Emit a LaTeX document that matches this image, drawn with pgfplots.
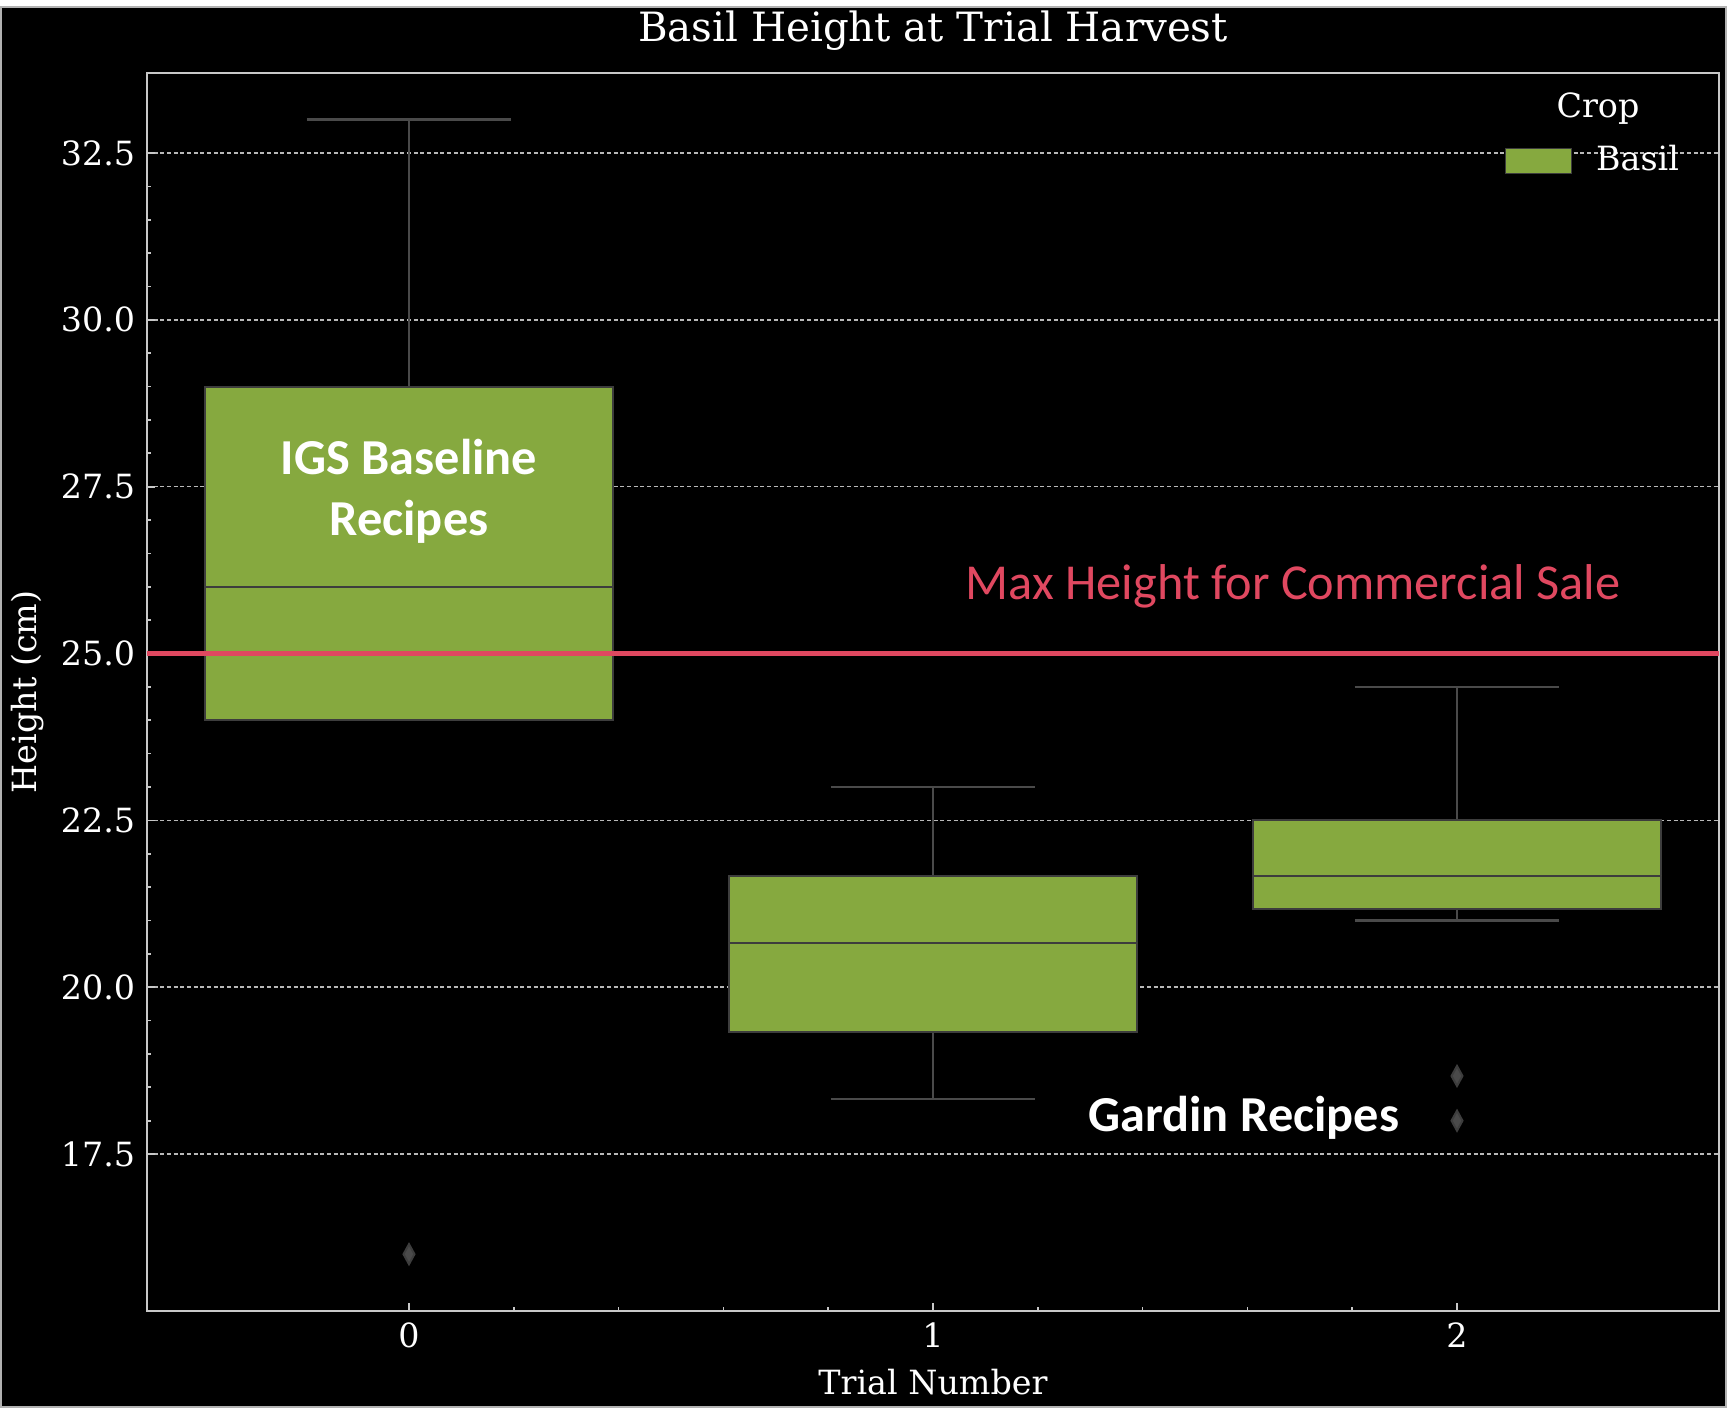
\documentclass[border=0pt]{standalone}
\usepackage{fontspec}
\setmainfont{DejaVu Serif}
\newfontfamily\calibri{Carlito}
\usepackage{pgfplots}
\pgfplotsset{compat=1.18}
\usepgfplotslibrary{statistics}

\definecolor{basil}{HTML}{86A93F}
\definecolor{boxedge}{HTML}{3D3D3D}
\definecolor{whisk}{HTML}{4A4A4A}
\definecolor{outl}{HTML}{4A4A4A}
\definecolor{salered}{HTML}{E04860}
\definecolor{axgray}{HTML}{C8C8C8}
\definecolor{gridgray}{HTML}{B8B8B8}

\begin{document}
\begin{tikzpicture}
% page background (1727 x 1402 px, 0.3pt per px)
\fill[black] (-44.1pt,-29.1pt) rectangle (474pt,391.5pt);
\draw[gray!60, line width=0.6pt] (-43.8pt,-28.8pt) rectangle (473.7pt,391.2pt);
\begin{axis}[
    scale only axis,
    width=471.6pt, height=371.4pt,
    xmin=-0.5, xmax=2.5,
    ymin=15.15, ymax=33.7,
    axis line style={axgray, line width=0.6pt},
    xtick={0,1,2},
    ytick={17.5,20,22.5,25,27.5,30,32.5},
    minor x tick num=4,
    minor y tick num=4,
    xtick pos=bottom, ytick pos=left,
    tick align=inside,
    major tick length=2.4pt, minor tick length=1.3pt,
    tick style={axgray, line width=0.5pt},
    /pgf/number format/assume math mode=true,
    yticklabel style={/pgf/number format/fixed, /pgf/number format/fixed zerofill, /pgf/number format/precision=1},
    ticklabel style={white, font=\fontsize{10}{12}\selectfont},
    ymajorgrids,
    major grid style={gridgray, line width=0.45pt, dash pattern=on 1.2pt off 0.8pt},
    % titles and labels
    title={Basil Height at Trial Harvest},
    every axis title/.style={at={(axis description cs:0.5,1)}, yshift=12.6pt, anchor=center, white, font=\fontsize{12.1}{14}\selectfont},
    xlabel={Trial Number}, ylabel={Height (cm)},
    label style={white, font=\fontsize{10}{12}\selectfont},
    xlabel style={at={(axis description cs:0.5,-0.0574)}, anchor=center},
    ylabel style={at={(axis description cs:-0.076,0.5)}, anchor=center},
    % legend
    legend style={draw=none, fill=none, text=white, font=\fontsize{10}{12}\selectfont,
        at={(axis description cs:0.857,0.929)}, anchor=west},
    legend image code/.code={\draw[fill=basil, draw=boxedge, line width=0.4pt] (0pt,-3.75pt) rectangle (19.8pt,3.75pt);
        \path (25pt,0pt);},
    boxplot/draw direction=y,
    boxplot/every whisker/.style={whisk, line width=0.7pt},
]
% trial 0
\addplot[boxplot prepared={draw position=0, median=26, upper quartile=29, lower quartile=24,
    upper whisker=33, lower whisker=24, box extend=0.78, whisker extend=0.39},
    fill=basil, draw=boxedge, line width=0.6pt,
    mark=diamond*, mark size=3pt, mark options={fill=outl, draw=none, xscale=0.73},
    forget plot] coordinates {(0,16)};
% trial 1
\addplot[boxplot prepared={draw position=1, median=20.67, upper quartile=21.67, lower quartile=19.33,
    upper whisker=23, lower whisker=18.33, box extend=0.78, whisker extend=0.39},
    fill=basil, draw=boxedge, line width=0.6pt, forget plot] coordinates {};
% trial 2
\addplot[boxplot prepared={draw position=2, median=21.67, upper quartile=22.5, lower quartile=21.17,
    upper whisker=24.5, lower whisker=21, box extend=0.78, whisker extend=0.39},
    fill=basil, draw=boxedge, line width=0.6pt,
    mark=diamond*, mark size=3pt, mark options={fill=outl, draw=none, xscale=0.73},
    forget plot] coordinates {(2,18.67) (2,18)};
% max height for sale
\addplot[salered, line width=1.35pt, forget plot] coordinates {(-0.5,25) (2.5,25)};

\addlegendimage{}
\addlegendentry{Basil}

\node[white, font=\fontsize{10}{12}\selectfont] at (axis description cs:0.923,0.971) {Crop};
\node[white, font=\calibri\bfseries\fontsize{15.1}{18.3}\selectfont, align=center] at (axis cs:0,27.43) {IGS Baseline\\Recipes};
\node[salered, font=\calibri\fontsize{15.1}{18}\selectfont] at (axis cs:1.687,26.01) {Max Height for Commercial Sale};
\node[white, font=\calibri\bfseries\fontsize{15.1}{18}\selectfont] at (axis cs:1.593,18.05) {Gardin Recipes};
\end{axis}
\end{tikzpicture}
\end{document}
